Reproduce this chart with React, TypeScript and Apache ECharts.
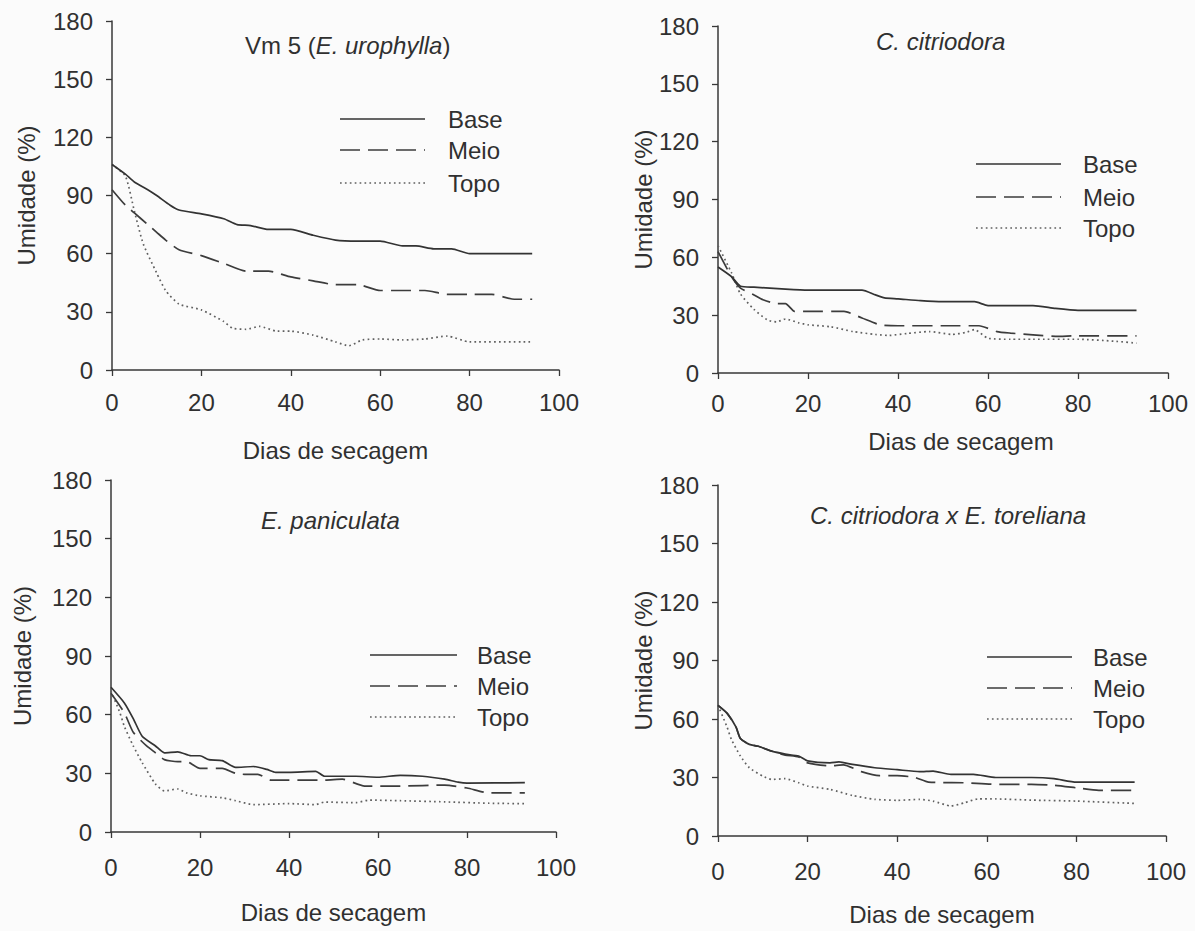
import React, { useEffect, useRef } from "react";
import * as echarts from "echarts";

// ---------- DATA (days of drying, moisture %) ----------
const xTicks = [0, 20, 40, 60, 80, 100];
const yTicks = [0, 30, 60, 90, 120, 150, 180];
const seriesNames = ["Base", "Meio", "Topo"];
const panelTitles = [
  "{n|Vm 5 (}{i|E. urophylla}{n|)}",
  "C. citriodora",
  "E. paniculata",
  "C. citriodora x E. toreliana",
];

const p1Base = [[0,106],[3,101],[5,97],[8,93],[10,90],[13,85],[15,82.5],[20,80.5],[25,78],[28,75],[31,74.5],[35,72.5],[40,72.5],[45,69.5],[50,67],[55,66.5],[60,66.5],[65,64],[68,64],[72,62.5],[76,62.5],[80,60],[85,60],[94,60]];
const p1Meio = [[0,93],[3,85],[5,81],[8,75],[10,71],[12,67],[15,62],[20,59],[25,55],[30,51],[35,51],[40,48],[45,46],[50,44],[55,44],[60,41],[65,41],[70,41],[75,39],[80,39],[85,39],[90,36.5],[94,36.5]];
const p1Topo = [[0,106],[3,100],[5,82],[7,65],[10,50],[12,41],[15,34],[20,31],[25,25],[27,21.5],[30,21],[33,22.5],[37,20],[40,20],[45,18],[50,14.5],[53,12.5],[56,15.5],[60,16],[65,15.5],[70,16],[75,17.5],[80,14.5],[94,14.5]];

const p2Base = [[0,55],[3,50],[5,45],[8,44.5],[15,43.5],[20,43],[28,43],[32,43],[35,40.5],[37,39],[40,38.5],[45,37.5],[50,37],[57,37],[60,35],[70,35],[75,33.5],[80,32.5],[93,32.5]];
const p2Meio = [[0,63],[3,50],[5,44],[8,40.5],[10,38],[13,36],[15,36],[17,32],[20,32],[28,32],[32,28.5],[36,25],[40,24.5],[50,24.5],[58,24.5],[62,21.5],[65,20.7],[70,19.8],[75,19],[80,19.3],[93,19.3]];
const p2Topo = [[0,66],[3,52],[5,41],[8,33],[11,27.5],[13,26.5],[15,28],[18,26],[20,25],[25,24],[30,21.5],[35,20],[38,19.5],[42,20.5],[47,21.5],[52,20],[55,21],[57,22.5],[60,18],[65,17.5],[70,17.5],[80,17.5],[88,16.5],[93,15.5]];

const p3Base = [[0,74],[3,66],[5,58],[7,49],[10,44],[12,40.5],[15,41],[18,39],[20,39],[22,37],[25,36.5],[28,33],[32,33.5],[35,32],[37,30.5],[40,30.5],[46,31],[48,28.5],[55,28.5],[60,28],[65,29],[70,28.5],[75,27],[78,25.5],[80,25],[93,25.2]];
const p3Meio = [[0,71],[3,61],[5,51],[8,44],[10,40.5],[12,37],[15,36],[17,36],[20,32.5],[25,32.5],[28,30],[30,29.5],[33,29.5],[36,26.5],[40,26.5],[48,26.5],[52,27],[57,23.5],[65,23.5],[75,24],[80,22.5],[85,20],[93,20]];
const p3Topo = [[0,72],[2,61],[3,54],[5,44],[7,35.5],[10,24.5],[12,21],[15,22],[17,20],[20,18.5],[25,17.5],[28,16],[32,14],[40,14.5],[46,14],[48,15.3],[55,15],[58,16.3],[65,16],[75,15.4],[85,14.7],[93,14.5]];

const p4Base = [[0,67],[2,63],[4,56],[5,50],[7,47],[9,46],[12,43.5],[15,42],[18,41],[20,38.5],[25,37.5],[27,38],[30,36.7],[35,35],[40,34],[45,33],[48,33.3],[52,31.6],[57,31.6],[62,30],[70,30],[75,29.4],[80,27.6],[93,27.6]];
const p4Meio = [[0,67],[2,63],[4,56],[5,50],[7,47],[9,46],[12,43.5],[15,41.5],[18,40.5],[20,37.5],[25,36],[28,36.5],[32,33],[36,31],[40,31],[44,30],[47,27.6],[55,27.3],[62,26.5],[70,26.5],[75,26],[80,24.7],[85,23.4],[93,23.4]];
const p4Topo = [[0,67],[2,56],[3,49.5],[5,41],[7,35],[10,30.7],[12,29],[15,29.4],[18,27.3],[20,25.6],[25,23.9],[30,20.8],[35,18.8],[40,18.3],[45,18.8],[48,17.9],[52,15.4],[55,17],[58,19],[62,19],[70,18.4],[80,17.9],[93,16.7]];

const panelData = [
  [p1Base, p1Meio, p1Topo],
  [p2Base, p2Meio, p2Topo],
  [p3Base, p3Meio, p3Topo],
  [p4Base, p4Meio, p4Topo],
];

// ---------- LAYOUT / STYLE ----------
const FONT = '"Liberation Sans", Arial, Helvetica, sans-serif';
const FS = 24;
const TXT = "#303030";
const AXIS = "#383838";

const layouts = [
  { grid: { left: 112, top: 21, width: 447, height: 349 }, title: { left: 245, cy: 47 },
    leg: { x1: 340, x2: 425, ys: [119, 150, 183], tx: 448 }, xGap: 68, xPad: 0, yGap: 74, xMargin: 20 },
  { grid: { left: 718, top: 26, width: 450, height: 347 }, title: { left: 876, cy: 43 },
    leg: { x1: 976, x2: 1061, ys: [164, 197, 228], tx: 1083 }, xGap: 56, xPad: 36, yGap: 63, xMargin: 18 },
  { grid: { left: 111, top: 480, width: 445, height: 352 }, title: { left: 261, cy: 522 },
    leg: { x1: 370, x2: 457, ys: [655, 686, 717], tx: 477 }, xGap: 68, xPad: 0, yGap: 77, xMargin: 23 },
  { grid: { left: 718, top: 485, width: 448, height: 351 }, title: { left: 810, cy: 517 },
    leg: { x1: 987, x2: 1072, ys: [657, 688, 719], tx: 1093 }, xGap: 66, xPad: 0, yGap: 59, xMargin: 23 },
];

const lineStyles = [
  { color: "#333333", width: 1.7, type: "solid" as any },
  { color: "#3c3c3c", width: 1.7, type: [20, 8] as any },
  { color: "#606060", width: 1.7, type: [1.7, 3.2] as any },
];

export default function App() {
  const ref = useRef<HTMLDivElement>(null);
  useEffect(() => {
    if (!ref.current) return;
    const chart = echarts.init(ref.current, undefined, { renderer: "svg" });

    const grids = layouts.map((l) => ({ ...l.grid, containLabel: false }));
    const xAxes = layouts.map((l, i) => ({
      type: "value",
      gridIndex: i,
      min: xTicks[0],
      max: xTicks[xTicks.length - 1],
      interval: 20,
      name: "Dias de secagem",
      nameLocation: "middle",
      nameGap: l.xGap,
      nameTextStyle: { fontSize: FS, color: TXT, fontFamily: FONT, padding: [0, 0, 0, l.xPad] },
      axisLine: { show: true, onZero: false, lineStyle: { color: AXIS, width: 1.5 } },
      axisTick: { show: true, inside: false, length: 6, lineStyle: { color: AXIS, width: 1.3 } },
      splitLine: { show: false },
      axisLabel: { fontSize: FS, color: TXT, fontFamily: FONT, margin: l.xMargin },
    }));
    const yAxes = layouts.map((l, i) => ({
      type: "value",
      gridIndex: i,
      min: yTicks[0],
      max: yTicks[yTicks.length - 1],
      interval: 30,
      name: "Umidade (%)",
      nameLocation: "middle",
      nameRotate: 90,
      nameGap: l.yGap,
      nameTextStyle: { fontSize: FS, color: TXT, fontFamily: FONT },
      axisLine: { show: true, onZero: false, lineStyle: { color: AXIS, width: 1.5 } },
      axisTick: { show: true, inside: false, length: 6, lineStyle: { color: AXIS, width: 1.3 } },
      splitLine: { show: false },
      axisLabel: { fontSize: FS, color: TXT, fontFamily: FONT, margin: 19 },
    }));

    const series: any[] = [];
    panelData.forEach((sets, i) => {
      sets.forEach((data, k) => {
        series.push({
          type: "line",
          name: seriesNames[k],
          xAxisIndex: i,
          yAxisIndex: i,
          data,
          symbol: "none",
          showSymbol: false,
          smooth: 0.2,
          lineStyle: lineStyles[k],
          z: 3 - k,
        });
      });
    });

    const titles = layouts.map((l, i) => ({
      text: panelTitles[i],
      left: l.title.left,
      top: l.title.cy - 14,
      padding: 0,
      textStyle: {
        fontSize: FS,
        fontWeight: "normal",
        color: TXT,
        fontFamily: FONT,
        fontStyle: i === 0 ? "normal" : "italic",
        rich: {
          n: { fontSize: FS, color: TXT, fontFamily: FONT, fontStyle: "normal" },
          i: { fontSize: FS, color: TXT, fontFamily: FONT, fontStyle: "italic" },
        },
      },
    }));

    const graphic: any[] = [];
    layouts.forEach((l) => {
      seriesNames.forEach((name, k) => {
        const ls = lineStyles[k];
        graphic.push({
          type: "line",
          shape: { x1: l.leg.x1, y1: l.leg.ys[k], x2: l.leg.x2, y2: l.leg.ys[k] },
          style: {
            stroke: ls.color,
            lineWidth: ls.width,
            lineDash: Array.isArray(ls.type) ? ls.type : null,
          },
        });
        graphic.push({
          type: "text",
          x: l.leg.tx,
          y: l.leg.ys[k],
          style: { text: name, fontSize: FS, fontFamily: FONT, fill: TXT, verticalAlign: "middle" },
        });
      });
    });

    chart.setOption({
      animation: false,
      backgroundColor: "#fbfbfb",
      title: titles,
      grid: grids,
      xAxis: xAxes,
      yAxis: yAxes,
      series,
      graphic,
    });
    return () => chart.dispose();
  }, []);

  return (
    <div
      ref={ref}
      style={{ position: "absolute", left: 0, top: 0, width: 1195, height: 931 }}
    />
  );
}
